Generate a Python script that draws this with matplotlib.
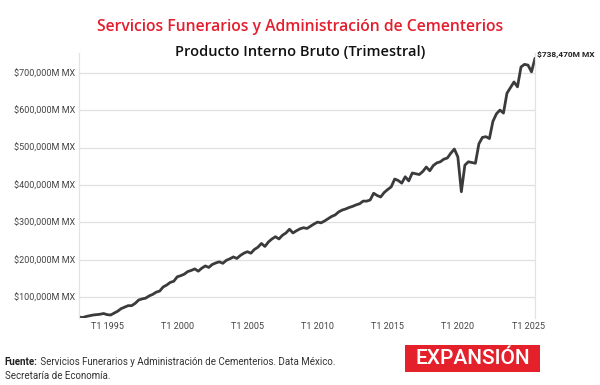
import matplotlib.pyplot as plt
from matplotlib.patches import Rectangle

# PIB trimestral, millones de pesos (1993 T1 .. 2025 T3)
pib_miles = [
    48, 46, 49, 51,
    53, 54, 55, 57,
    54, 53, 58, 63,
    70, 74, 78, 78,
    84, 93, 96, 98,
    104, 108, 114, 117,
    128, 133, 140, 143,
    155, 158, 162, 169,
    172, 176, 170, 178,
    184, 180, 188, 192,
    195, 191, 199, 203,
    208, 204, 212, 218,
    222, 218, 228, 234,
    244, 236, 248, 256,
    262, 256, 266, 272,
    282, 272, 278, 283,
    286, 284, 290, 296,
    301, 299, 304, 310,
    316, 320, 328, 333,
    336, 340, 343, 347,
    350, 357, 357, 360,
    378, 372, 368, 380,
    388, 395, 416, 412,
    405, 422, 411, 432,
    430, 428, 436, 448,
    438, 452, 459, 462,
    469, 472, 485, 496,
    475, 382, 453, 462,
    460, 458, 510, 527,
    529, 524, 570, 590,
    600, 592, 645, 660,
    675, 662, 715, 722,
    720, 702, 738.47,
]
pib = [v * 1000 for v in pib_miles]
start_year = 1993
tick_years = [1995, 2000, 2005, 2010, 2015, 2020, 2025]
y_ticks = [100000, 200000, 300000, 400000, 500000, 600000, 700000]
last_label = "$738,470M MX"

RED = "#e31f2f"
narrow = ["Roboto", "DejaVu Sans"]

t = [start_year + i * 0.25 for i in range(len(pib))]

fig = plt.figure(figsize=(6, 3.85), dpi=100)
ax = fig.add_axes([0.1317, 0.174, 0.76, 0.688])

ax.plot(t, pib, color="#3b3b3d", lw=2.0, solid_joinstyle="round", solid_capstyle="round")

ax.set_xlim(start_year, t[-1])
ax.set_ylim(45000, 752000)
ax.set_xticks(tick_years)
ax.set_xticklabels([f"T1 {y}" for y in tick_years], family=narrow, fontsize=6.5, color="#444444")
ax.set_yticks(y_ticks)
ax.set_yticklabels([f"${v:,}M MX" for v in y_ticks], family=narrow, fontsize=6.5, color="#444444")
ax.tick_params(length=0, pad=3)
ax.grid(axis="y", color="#e0e0e0", lw=0.9)
ax.set_axisbelow(True)
for side in ["top", "bottom"]:
    ax.spines[side].set_visible(False)
for side in ["left", "right"]:
    ax.spines[side].set_color("#e3e3e3")
    ax.spines[side].set_linewidth(0.9)

# etiqueta del ultimo valor
ax.annotate(last_label, (t[-1], pib[-1]), xytext=(1.5, 0), textcoords="offset points",
            family=narrow, fontsize=6, fontweight="bold", color="#222222",
            va="bottom", ha="left", annotation_clip=False)

fig.text(0.5, 0.93, "Servicios Funerarios y Administración de Cementerios",
         ha="center", va="center", color=RED, fontsize=11.3, family="Open Sans", fontweight="semibold")
fig.text(0.5, 0.866, "Producto Interno Bruto (Trimestral)",
         ha="center", va="center", color="#111111", fontsize=10.5, family="Open Sans", fontweight="semibold")

# pie de pagina
src = fig.text(0.008, 0.06, "Fuente:", ha="left", va="center", fontsize=7, family=narrow,
               fontweight="bold", color="#222222")
ax.annotate(" Servicios Funerarios y Administración de Cementerios. Data México.",
            xy=(1, 0.5), xycoords=src, va="center", ha="left", fontsize=7,
            family=narrow, color="#333333", annotation_clip=False)
fig.text(0.008, 0.023, "Secretaría de Economía.", ha="left", va="center", fontsize=7,
         family=narrow, color="#333333")

fig.patches.append(Rectangle((0.675, 0.034), 0.225, 0.07, transform=fig.transFigure,
                             facecolor="#e4202a", edgecolor="none"))
fig.text(0.7875, 0.069, "EXPANSIÓN", ha="center", va="center", fontsize=15, color="white",
         family=narrow, fontweight="medium")

fig.savefig("out.png", dpi=100, facecolor="white")
